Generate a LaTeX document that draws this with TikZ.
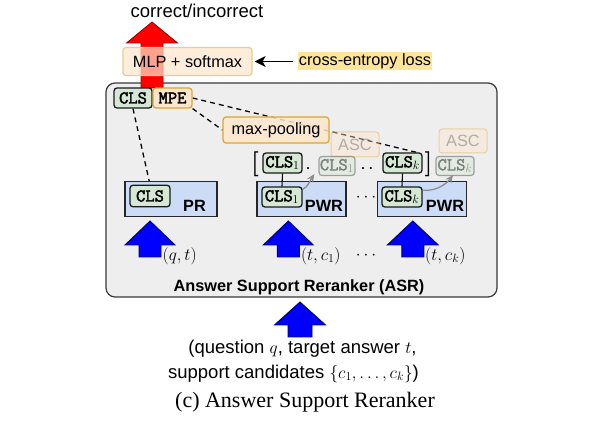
\documentclass[tikz,border=0pt]{standalone}
\usepackage{fontspec}
\setmainfont{Liberation Sans}
\newfontfamily\capfont{Liberation Serif}
\newfontfamily\brkfont{Latin Modern Roman}
\newfontfamily\clsfont{Latin Modern Mono}[FakeBold=2.5]
\usetikzlibrary{arrows.meta,calc}

\definecolor{asrgray}{HTML}{EEEEEE}
\definecolor{asrborder}{HTML}{3A3A3A}
\definecolor{bluefill}{HTML}{CCDCF6}
\definecolor{greenfill}{HTML}{D5E8D4}
\definecolor{orangefill}{HTML}{FFE6CC}
\definecolor{goldborder}{HTML}{D9A536}
\definecolor{mlpborder}{HTML}{E6CF96}
\definecolor{yellowfill}{HTML}{FFE599}

\pgfdeclarelayer{back}
\pgfdeclarelayer{lines}
\pgfsetlayers{back,lines,main}

\newcommand\blockarrow[7]{%
  \draw[#1] (#2,#3) -- (#2+#4,#5) -- (#2+#6,#5) -- (#2+#6,#7) -- (#2-#6,#7) -- (#2-#6,#5) -- (#2-#4,#5) -- cycle;}

\tikzset{
  boxtxt/.style={font=\fontsize{16.3}{19}\selectfont},
  boldtxt/.style={font=\fontsize{16.3}{19}\selectfont\bfseries, inner sep=0pt},
  outtxt/.style={font=\fontsize{18.5}{22}\selectfont, inner sep=0pt},
  asrbox/.style={draw=asrborder, fill=asrgray, rounded corners=9pt, line width=1.2pt},
  bluebox/.style={draw=black!85, fill=bluefill, line width=1.2pt, inner sep=0pt},
  clsbox/.style={draw=black!90, fill=greenfill, rounded corners=3pt, line width=1.3pt, inner sep=0pt,
     font=\clsfont\fontsize{18}{20}\selectfont},
  mpebox/.style={draw=goldborder, fill=orangefill, rounded corners=3pt, line width=1.2pt, inner sep=0pt,
     font=\clsfont\fontsize{18}{20}\selectfont},
  poolbox/.style={draw=goldborder, fill=orangefill, fill opacity=0.85, text opacity=1, rounded corners=3pt,
     line width=1.2pt, inner sep=0pt, boxtxt},
  mlpbox/.style={draw=mlpborder, fill=orangefill, fill opacity=0.7, text opacity=1, rounded corners=3pt,
     line width=1.2pt, inner sep=0pt, boxtxt},
  cebox/.style={fill=yellowfill, inner sep=0pt, boxtxt},
  fadeasc/.style={draw=goldborder, fill=orangefill, rounded corners=3pt, line width=1pt, inner sep=0pt,
     opacity=0.4, text=black!70, boxtxt},
  fadecls/.style={draw=black!75, fill=greenfill, rounded corners=3pt, line width=1.2pt, inner sep=0pt,
     opacity=0.45, text=black!80, font=\clsfont\fontsize{18}{20}\selectfont},
  dashline/.style={dash pattern=on 5pt off 4pt, line width=1.3pt},
  grayarr/.style={draw=gray!90, line width=1.3pt, -{Stealth[length=8pt,width=7pt]}},
  redarrow/.style={fill=red, draw=red!60!black, line width=0.8pt},
  bluearr/.style={fill=blue, draw=blue!40!black, line width=0.9pt},
  brk/.style={font=\brkfont\bfseries\fontsize{25}{25}\selectfont, inner sep=0pt},
  mathlbl/.style={font=\fontsize{18}{20}\selectfont, inner sep=0pt},
}

\begin{document}
\begin{tikzpicture}[x=1pt,y=-1pt]
\useasboundingbox (0,0) rectangle (594,435);

% ---------- main layer nodes ----------
\node[outtxt, anchor=base] (out) at (197,17.5) {correct/incorrect};

\node[mlpbox, minimum width=129, minimum height=28] (mlp) at (187.5,61.5) {MLP + softmax};
\node[cebox, minimum width=134, minimum height=18] (ce) at (365,61.5) {cross-entropy loss};
\draw[line width=1.3pt, -{Stealth[length=11pt,width=11pt,inset=3pt]}, shorten <=5pt, shorten >=2pt] (ce.west) -- (mlp.east);

\node[clsbox, minimum width=38, minimum height=20] (clstop) at (133,98) {CLS};
\node[mpebox, minimum width=39, minimum height=20] (mpe) at (172.5,98) {MPE};

\node[poolbox, minimum width=106, minimum height=26] (pool) at (276,130) {max-pooling};

% PR
\node[bluebox, minimum width=92, minimum height=35] (pr) at (171,199) {};
\node[clsbox, minimum width=40, minimum height=21.5] (prcls) at (150,196) {CLS};
\node[boldtxt, anchor=base] (prlbl) at (194.5,211.7) {PR};

% PWR 1
\node[bluebox, minimum width=89, minimum height=35] (pwr1) at (301.5,199) {};
\node[clsbox, minimum width=40, minimum height=20] (cls1l) at (282,197) {CLS$_1$};
\node[boldtxt, anchor=base] (pwr1lbl) at (324,211.7) {PWR};

% PWR 2
\node[bluebox, minimum width=89, minimum height=35] (pwr2) at (422,199) {};
\node[clsbox, minimum width=40, minimum height=20] (clskl) at (402,197) {CLS$_k$};
\node[boldtxt, anchor=base] (pwr2lbl) at (445,211.7) {PWR};

\node[mathlbl] (ldots) at (366,198) {$\cdots$};

% upper CLS row
\node[clsbox, minimum width=39, minimum height=20] (cls1u) at (282.5,163) {CLS$_1$};
\node[clsbox, minimum width=39, minimum height=20] (clsku) at (402.5,163) {CLS$_k$};
\draw[line width=1.1pt] (cls1u.south) -- (cls1l.north);
\draw[line width=1.1pt] (clsku.south) -- (clskl.north);
\node[brk] (lbrk) at (255,164) {[};
\node[brk] (rbrk) at (428.5,164) {]};
\node[mathlbl, anchor=base] (udot1) at (308,170) {.};
\node[mathlbl, anchor=base] (udot2) at (367,170) {.\,.};

% faded ASC
\node[fadeasc, minimum width=48, minimum height=25] (asc1) at (355,144.5) {ASC};
\node[fadecls, minimum width=36, minimum height=19] (fcls1) at (337,166) {CLS$_1$};
\node[fadeasc, minimum width=48, minimum height=24] (asc2) at (463,141) {ASC};
\node[fadecls, minimum width=38, minimum height=19] (fclsk) at (455,166) {CLS$_k$};

\draw[grayarr] ($(cls1l.north east)+(0,3)$) .. controls +(5,-2) and +(-4,6) .. ($(fcls1.south west)+(-4,-2)$);
\draw[grayarr] ($(clskl.north east)+(0,4)$) .. controls +(15,1) and +(-6,8) .. ($(fclsk.south)+(-2,-1)$);

% blue input arrows
\blockarrow{bluearr}{150}{221}{25}{245}{11}{257}
\blockarrow{bluearr}{288.3}{221}{25}{245}{11}{257}
\blockarrow{bluearr}{412.8}{221}{25.5}{245}{11}{257}
\node[mathlbl, anchor=west] (lqt) at (162.5,256) {$(q,t)$};
\node[mathlbl, anchor=west] (ltc1) at (300.8,256) {$(t,c_1)$};
\node[mathlbl] (lmid) at (366,256) {$\cdots$};
\node[mathlbl, anchor=west] (ltck) at (425,256) {$(t,c_k)$};

\node[boldtxt, anchor=base] (asrlbl) at (299,292) {Answer Support Reranker (ASR)};

% bottom input
\blockarrow{bluearr}{300}{302}{25.5}{325}{12}{337}
\node[outtxt, anchor=base] (in1) at (302.5,353) {(question $q$, target answer $t$,};
\node[outtxt, anchor=base] (in2) at (293.5,378) {support candidates $\{c_1,\ldots,c_k\}$)};
\node[font=\capfont\fontsize{22}{24}\selectfont, inner sep=0pt, anchor=base] (cap) at (305,407) {(c) Answer Support Reranker};

% ---------- background ----------
\begin{pgfonlayer}{back}
\fill[white] (0,0) rectangle (594,435);
\node[asrbox, minimum width=391, minimum height=214] (asr) at (301.5,190) {};
\blockarrow{redarrow}{152}{22}{25.5}{43}{11}{88}
\end{pgfonlayer}

\begin{pgfonlayer}{lines}
\draw[dashline] (clstop.south) -- (prcls.north);
\draw[dashline] (mpe.east) -- ($(clsku.north)+(14,0)$);
\draw[dashline] (mpe.south east) -- (pool.west);
\end{pgfonlayer}
\end{tikzpicture}
\end{document}
